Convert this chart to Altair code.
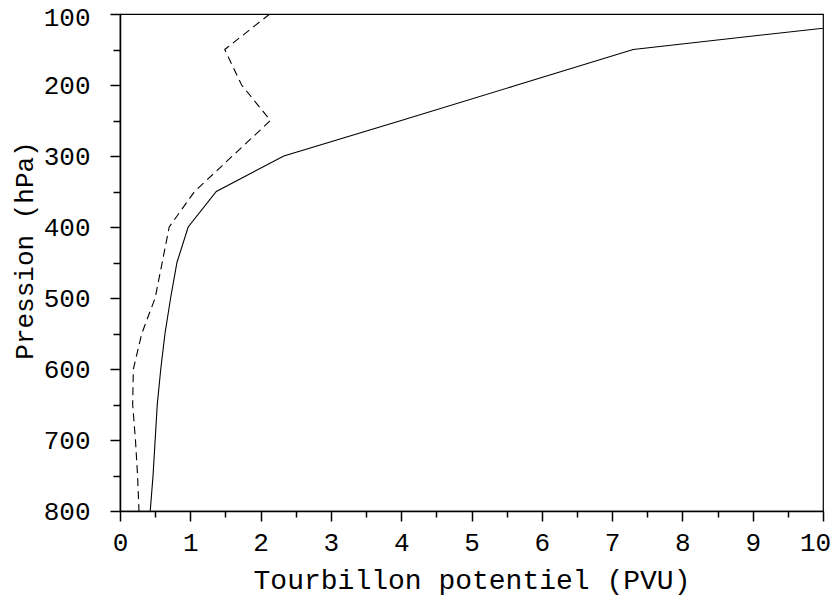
import altair as alt
import pandas as pd

pressure = [800, 750, 700, 650, 600, 550, 500, 450, 400, 350, 300, 250, 200, 150, 100]
pv_solid = [0.43, 0.47, 0.50, 0.53, 0.58, 0.64, 0.72, 0.81, 0.97, 1.37, 2.33, 4.0, 5.65, 7.30, 11.8]
pv_dashed = [0.27, 0.25, 0.22, 0.18, 0.19, 0.31, 0.50, 0.60, 0.70, 1.06, 1.60, 2.14, 1.73, 1.49, 2.13]

df_solid = pd.DataFrame({"p": pressure, "pv": pv_solid})
df_dashed = pd.DataFrame({"p": pressure, "pv": pv_dashed})

FONT = "Liberation Mono"

x_ticks = [i * 0.5 for i in range(21)]
y_ticks = list(range(100, 801, 50))

x_enc = alt.X(
    "pv:Q",
    scale=alt.Scale(domain=[0, 10], nice=False, zero=False),
    axis=alt.Axis(
        title="Tourbillon potentiel (PVU)",
        values=x_ticks,
        labelExpr="datum.value % 1 === 0 ? '' + datum.value : ''",
        tickSize={"condition": {"test": "datum.value % 1 === 0", "value": 10}, "value": 6},
        labelOffset={"condition": {"test": "datum.value === 10", "value": -8}, "value": 0},
        labelPadding=8,
        titlePadding=11,
        titleFontSize=28,
    ),
)
y_enc = alt.Y(
    "p:Q",
    scale=alt.Scale(domain=[100, 800], reverse=True, nice=False, zero=False),
    axis=alt.Axis(
        title="Pression (hPa)",
        values=y_ticks,
        labelExpr="datum.value % 100 === 0 ? '' + datum.value : ''",
        tickSize={"condition": {"test": "datum.value % 100 === 0", "value": 10}, "value": 7},
        labelOffset={"condition": {"test": "datum.value === 100", "value": 3}, "value": 0},
        labelPadding=20,
        titlePadding=6,
        titleFontSize=26,
        titleY=236,
    ),
)

solid = alt.Chart(df_solid).mark_line(color="black", strokeWidth=1.1, clip=True).encode(
    x=x_enc, y=y_enc, order=alt.Order("p:Q")
)
dashed = alt.Chart(df_dashed).mark_line(
    color="black", strokeWidth=1.1, strokeDash=[8, 5], clip=True
).encode(x=x_enc, y=y_enc, order=alt.Order("p:Q"))

chart = (
    alt.layer(solid, dashed)
    .properties(
        width=703,
        height=497,
        background="white",
        autosize=alt.AutoSizeParams(type="none"),
        padding={"left": 112, "top": 6, "right": 8, "bottom": 84},
    )
    .configure_view(stroke="black", strokeWidth=1.2)
    .configure_axis(
        grid=False,
        domainColor="black",
        domainWidth=1.5,
        tickColor="black",
        tickWidth=1.5,
        labelFont=FONT,
        labelFontSize=26,
        labelColor="black",
        labelFlush=False,
        labelOverlap=False,
        labelBound=False,
        titleFont=FONT,
        titleFontWeight="normal",
        titleColor="black",
    )
)

chart.save("out.html", embed_options={"renderer": "svg", "actions": False})
